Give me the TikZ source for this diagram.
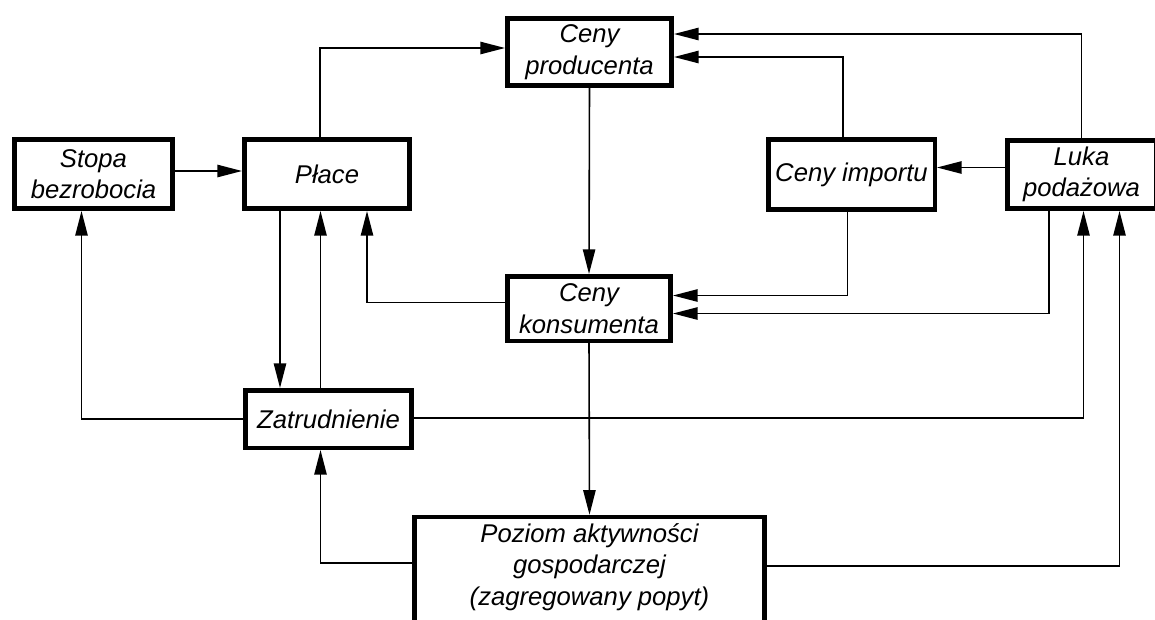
\documentclass[tikz,border=0pt]{standalone}
\usepackage{fontspec}
\setmainfont{Liberation Sans}
\usetikzlibrary{arrows.meta,calc}

\begin{document}
\begin{tikzpicture}[x=0.02cm, y=-0.02cm,
		box/.style={draw, line width=0.09cm, align=center, inner sep=2pt,
			font=\fontsize{14.6}{18}\selectfont\itshape,
			minimum width=3.31cm, minimum height=1.39cm},
		link/.style={line width=0.9pt, -{Triangle[length=14pt,width=7pt]}},
		wire/.style={line width=0.9pt}]
	\useasboundingbox (0,0) rectangle (1155,619);
	\clip (0,0) rectangle (1155,619);

	% boxes
	\node[box, minimum width=3.17cm] (stopa) at (93.5,174) {Stopa\\bezrobocia};
	\node[box] (place) at (327,174) {Płace};
	\node[box, minimum width=3.29cm, minimum height=1.35cm] (producent) at (589.5,52) {Ceny\\producenta};
	\node[box, minimum width=3.33cm, minimum height=1.41cm] (import) at (851.5,174.5) {Ceny importu};
	\node[box, minimum width=2.97cm, minimum height=1.37cm] (luka) at (1081.5,174.5) {Luka\\podażowa};
	\node[box, minimum width=3.27cm, minimum height=1.29cm] (konsument) at (589,308.5) {Ceny\\konsumenta};
	\node[box, minimum width=3.33cm, minimum height=1.15cm] (zatr) at (328.5,419) {Zatrudnienie};
	\node[box, minimum width=7.01cm, minimum height=2.4cm] (poziom) at (589.5,577) {Poziom aktywności\\gospodarczej\\(zagregowany popyt)\rule[-0.5cm]{0pt}{0pt}};

	% helper points
	\coordinate (p1) at ($(place.south)+(-47,0)$);
	\coordinate (z1) at ($(zatr.north)+(-8,0)$);

	% connectors
	\draw[link] ($(stopa.east)+(0,-3)$) -- ($(place.west)+(0,-3)$);
	\draw[link] ($(place.north)+(-7,0)$) |- ($(producent.west)+(0,-4)$);
	\draw[link] (producent.south) -- (konsument.north);
	\draw[link] (luka.north) |- ($(producent.east)+(0,-18)$);
	\draw[link] ($(import.north)+(-8.5,0)$) |- ($(producent.east)+(0,5)$);
	\draw[link] ($(luka.west)+(0,-7)$) -- ($(import.east)+(0,-7)$);
	\draw[link] ($(import.south)+(-4,0)$) |- ($(konsument.east)+(0,-13)$);
	\draw[link] ($(luka.south)+(-32.5,0)$) |- ($(konsument.east)+(0,5)$);
	\draw[link] ($(zatr.east)+(0,-1)$) -| ($(luka.south)+(2,0)$);
	\draw[link] ($(poziom.east)+(0,-11)$) -| ($(luka.south)+(38,0)$);
	\draw[link] ($(konsument.west)+(0,-6)$) -| ($(place.south)+(40,0)$);
	\draw[link] (p1) -- (p1 |- zatr.north);
	\draw[link] (z1) -- (z1 |- place.south);
	\draw[link] (zatr.west) -| ($(stopa.south)+(-12,0)$);
	\draw[link] (konsument.south) -- (poziom.north);
	\draw[link] ($(poziom.west)+(0,-14)$) -| ($(zatr.south)+(-8,0)$);
\end{tikzpicture}
\end{document}
